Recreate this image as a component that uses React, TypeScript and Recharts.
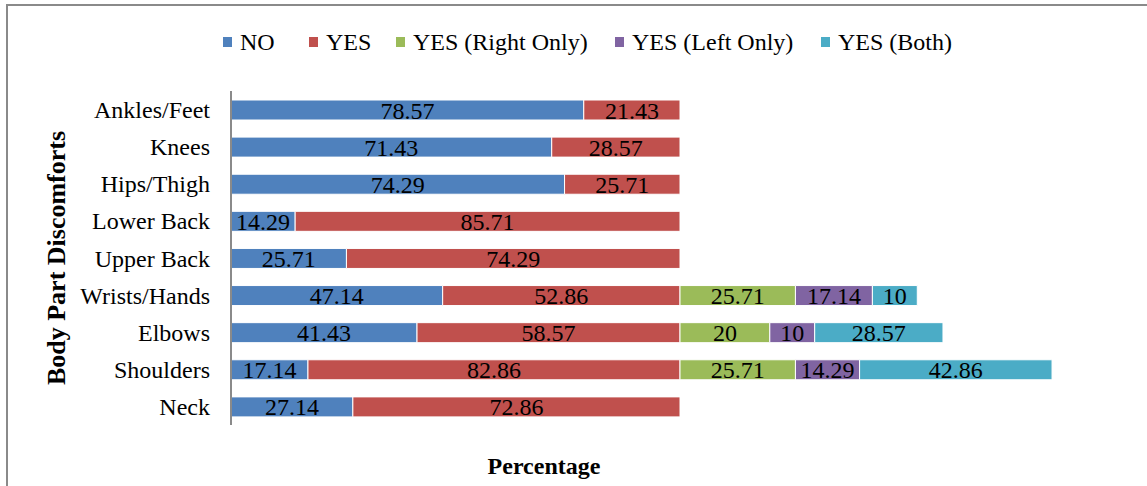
import React from 'react';
import { BarChart, Bar, XAxis, YAxis, LabelList } from 'recharts';

const categories = ['Ankles/Feet', 'Knees', 'Hips/Thigh', 'Lower Back', 'Upper Back', 'Wrists/Hands', 'Elbows', 'Shoulders', 'Neck'];
const noValues = [78.57, 71.43, 74.29, 14.29, 25.71, 47.14, 41.43, 17.14, 27.14];
const yesValues = [21.43, 28.57, 25.71, 85.71, 74.29, 52.86, 58.57, 82.86, 72.86];
const rightOnly = [0, 0, 0, 0, 0, 25.71, 20, 25.71, 0];
const leftOnly = [0, 0, 0, 0, 0, 17.14, 10, 14.29, 0];
const bothValues = [0, 0, 0, 0, 0, 10, 28.57, 42.86, 0];

const seriesNames = ['NO', 'YES', 'YES (Right Only)', 'YES (Left Only)', 'YES (Both)'];
const seriesKeys = ['no', 'yes', 'right', 'left', 'both'];
const seriesColors = ['#4F81BD', '#C0504D', '#9BBB59', '#8064A2', '#4BACC6'];

// legend layout (pixel x of each legend item's swatch)
const legendLeft = [223, 309, 396, 615, 821];

const data = categories.map((c, i) => ({
  name: c,
  no: noValues[i],
  yes: yesValues[i],
  right: rightOnly[i],
  left: leftOnly[i],
  both: bothValues[i],
}));

const FONT = '"Liberation Serif", "Times New Roman", serif';

const fmt = (v: any) => (v ? String(v) : '');

export default function App() {
  return (
    <div style={{ position: 'absolute', left: 0, top: 0, width: 1147, height: 486, overflow: 'hidden', background: '#fff', fontFamily: FONT }}>
      <div style={{ position: 'absolute', left: 6, top: 4, width: 1200, height: 600, borderLeft: '2px solid #8a8a8a', borderTop: '2px solid #8a8a8a' }} />
      {seriesNames.map((n, i) => (
        <div
          key={n}
          style={{ position: 'absolute', left: legendLeft[i], top: 29, display: 'flex', alignItems: 'center', whiteSpace: 'nowrap', fontSize: 24, color: '#000', lineHeight: '26px' }}
        >
          <span style={{ display: 'inline-block', width: 9, height: 10, background: seriesColors[i], marginRight: 8 }} />
          <span>{n}</span>
        </div>
      ))}
      <div style={{ position: 'absolute', left: 444, width: 200, textAlign: 'center', top: 453, fontSize: 24, fontWeight: 'bold', color: '#000' }}>Percentage</div>
      <BarChart
        width={1147}
        height={486}
        data={data}
        layout="vertical"
        margin={{ top: 91, right: 18, bottom: 61, left: 0 }}
        barSize={20}
        style={{ position: 'absolute', left: 0, top: 0 }}
      >
        <XAxis type="number" domain={[0, 200]} hide />
        <YAxis
          type="category"
          dataKey="name"
          width={231}
          axisLine={{ stroke: '#8a8a8a', strokeWidth: 2 }}
          tickLine={false}
          tickMargin={15}
          tick={{ fill: '#000', fontSize: 24, fontFamily: FONT }}
          label={{
            content: (props: any) => {
              const vb = props.viewBox || { x: 0, y: 91, width: 231, height: 334 };
              const cx = 56;
              const cy = vb.y + vb.height / 2;
              return (
                <text
                  x={cx}
                  y={cy}
                  transform={`rotate(-90, ${cx}, ${cy})`}
                  textAnchor="middle"
                  dominantBaseline="central"
                  fontFamily={FONT}
                  fontSize={26}
                  fontWeight="bold"
                  fill="#000"
                >
                  Body Part Discomforts
                </text>
              );
            },
          }}
        />
        {seriesKeys.map((k, i) => (
          <Bar key={k} dataKey={k} stackId="a" fill={seriesColors[i]} stroke="#fff" strokeWidth={1} isAnimationActive={false}>
            <LabelList dataKey={k} position="center" formatter={fmt} fill="#000" fontSize={24} fontFamily={FONT} />
          </Bar>
        ))}
      </BarChart>
    </div>
  );
}
